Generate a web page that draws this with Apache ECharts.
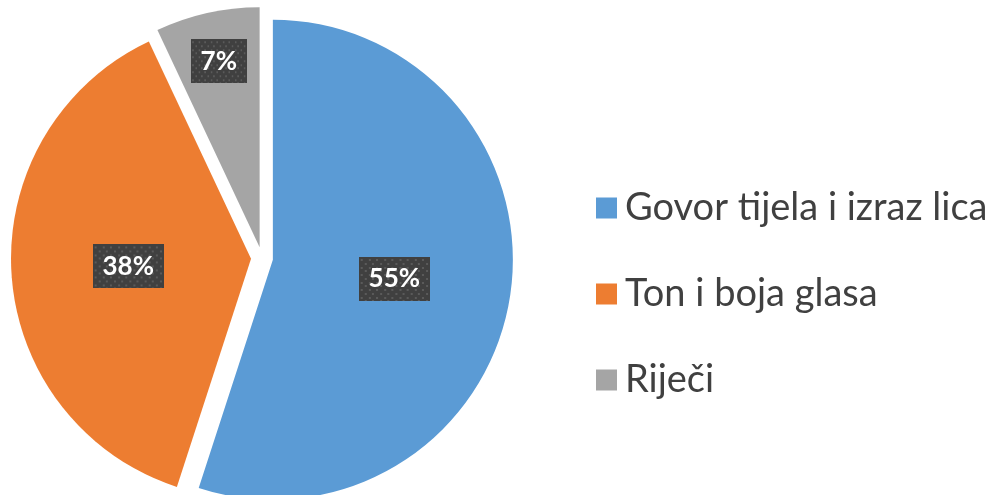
<!DOCTYPE html>
<html>
<head>
<meta charset="utf-8">
<script src="https://cdn.jsdelivr.net/npm/echarts@6/dist/echarts.min.js"></script>
<style>
html,body{margin:0;padding:0;background:#fff;}
#chart{width:990px;height:495px;}
</style>
</head>
<body>
<div id="chart"></div>
<script>
const categories = ['Govor tijela i izraz lica', 'Ton i boja glasa', 'Riječi'];
const values = [55, 38, 7];
const colors = ['#5B9BD5', '#ED7D31', '#A5A5A5'];

function makeBg(w, h) {
  const c = document.createElement('canvas');
  c.width = w; c.height = h;
  const ctx = c.getContext('2d');
  ctx.fillStyle = '#404040';
  ctx.fillRect(0, 0, w, h);
  ctx.fillStyle = '#5a5a5a';
  const s = 7.5;
  let row = 0;
  for (let y = 2; y < h; y += s / 2, row++) {
    const off = (row % 2) ? s / 2 : 0;
    for (let x = 2 + off; x < w; x += s) {
      ctx.fillRect(Math.round(x), Math.round(y), 2, 2);
    }
  }
  return c;
}
const bg = makeBg(70, 44);

const chart = echarts.init(document.getElementById('chart'), null, {renderer: 'canvas'});
chart.setOption({
  animation: false,
  color: colors,
  legend: {
    orient: 'vertical',
    left: 591,
    top: 183,
    icon: 'rect',
    itemWidth: 21,
    itemHeight: 21,
    itemGap: 46,
    selectedMode: false,
    textStyle: {
      fontFamily: 'Lato',
      fontSize: 38,
      lineHeight: 40,
      color: '#404040',
      padding: [0, 0, 0, 3]
    },
    data: categories
  },
  series: [{
    type: 'pie',
    center: [262, 258],
    radius: 240,
    startAngle: 90,
    clockwise: true,
    selectedMode: 'multiple',
    selectedOffset: 11,
    emphasis: {disabled: true},
    label: {
      show: true,
      position: 'inside',
      formatter: '{c}%',
      color: '#ffffff',
      fontFamily: 'Lato',
      fontWeight: 'bold',
      fontSize: 26,
      lineHeight: 26,
      backgroundColor: {image: bg},
      padding: [9, 10, 9, 10],
      shadowColor: 'rgba(0,0,0,0.55)',
      shadowBlur: 6,
      shadowOffsetX: 3,
      shadowOffsetY: 3
    },
    labelLayout: function (p) {
      if (p.dataIndex === 2) return {dx: -14, dy: -66};
      return {};
    },
    labelLine: {show: false},
    data: categories.map((n, i) => ({name: n, value: values[i], selected: true}))
  }]
});
</script>
</body>
</html>
